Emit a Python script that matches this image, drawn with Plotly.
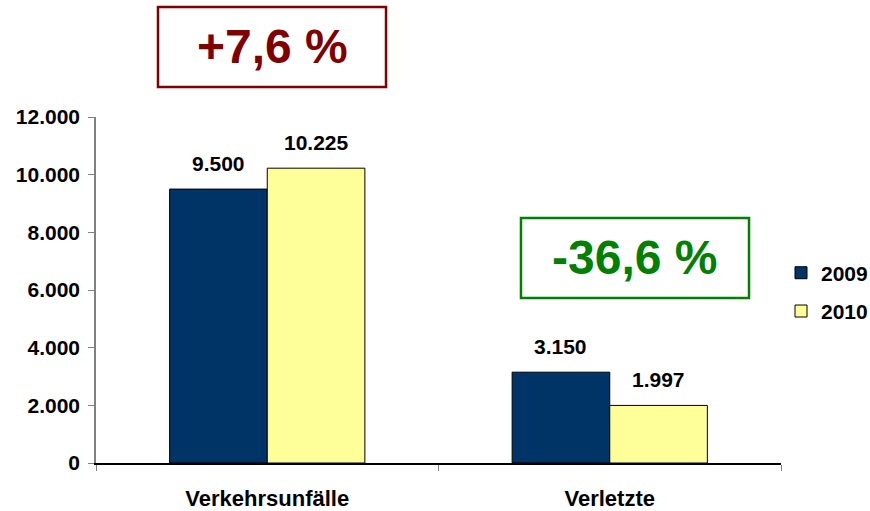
import plotly.graph_objects as go

categories = ["Verkehrsunfälle", "Verletzte"]
years = ["2009", "2010"]
values_2009 = [9500, 3150]
values_2010 = [10225, 1997]
y_ticks = [0, 2000, 4000, 6000, 8000, 10000, 12000]
change_labels = ["+7,6 %", "-36,6 %"]

FONT = "Liberation Sans, Arial, sans-serif"
colors = ["#003366", "#FFFF99"]


def bold(size, color="#000000"):
    return dict(family=FONT, size=size, color=color, weight="bold")


fig = go.Figure()
for name, vals, col in zip(years, [values_2009, values_2010], colors):
    fig.add_trace(go.Bar(
        x=categories, y=vals, name=name, legendgroup=name,
        marker=dict(color=col, line=dict(color="#000000", width=1)),
    ))

# value labels above bars
for i, vals in enumerate([values_2009, values_2010]):
    for cat, v in zip(categories, vals):
        fig.add_annotation(
            x=cat, y=v, xref="x", yref="y",
            text=f"{v:,}".replace(",", "."),
            showarrow=False, xanchor="center", yanchor="bottom", yshift=12,
            xshift=(-49 if i == 0 else 49),
            font=bold(21),
        )

# change boxes
boxes = [
    dict(x0=0.0905, x1=0.4234, y0=1.087, y1=1.318, color="#800000", text=change_labels[0]),
    dict(x0=0.6204, x1=0.9533, y0=0.477, y1=0.708, color="#008000", text=change_labels[1]),
]
for b in boxes:
    fig.add_shape(type="rect", xref="paper", yref="paper",
                  x0=b["x0"], x1=b["x1"], y0=b["y0"], y1=b["y1"],
                  line=dict(color=b["color"], width=2.5), fillcolor="white")
    fig.add_annotation(x=(b["x0"] + b["x1"]) / 2, y=(b["y0"] + b["y1"]) / 2,
                       xref="paper", yref="paper", showarrow=False,
                       xanchor="center", yanchor="middle",
                       text=b["text"], font=bold(48, b["color"]))

fig.update_layout(
    width=870, height=511,
    margin=dict(l=96, r=89, t=117, b=48, autoexpand=False),
    plot_bgcolor="white", paper_bgcolor="white",
    separators=",.",
    barmode="group", bargap=0.43, bargroupgap=0,
    font=bold(20),
    showlegend=True,
    legend=dict(x=1.0, y=0.494, xanchor="left", yanchor="middle",
                font=bold(21), itemwidth=30, tracegroupgap=8,
                bgcolor="rgba(0,0,0,0)"),
)
fig.update_xaxes(
    automargin=False,
    showline=True, linecolor="#000000", linewidth=1.5,
    ticks="outside", tickson="boundaries", ticklen=6, tickcolor="#808080",
    tickfont=bold(22), ticklabelstandoff=15,
)
fig.update_yaxes(
    automargin=False,
    range=[0, 12000], tickvals=y_ticks, tickformat=",d",
    showline=True, linecolor="#808080", linewidth=1.5,
    ticks="outside", ticklen=6, tickcolor="#808080",
    showgrid=False, zeroline=False,
    tickfont=bold(21), ticklabelstandoff=4,
)

fig.write_html(
    "out.html",
    config={"displayModeBar": False},
    post_script="document.body.style.margin='0';document.body.style.overflow='hidden';",
)
